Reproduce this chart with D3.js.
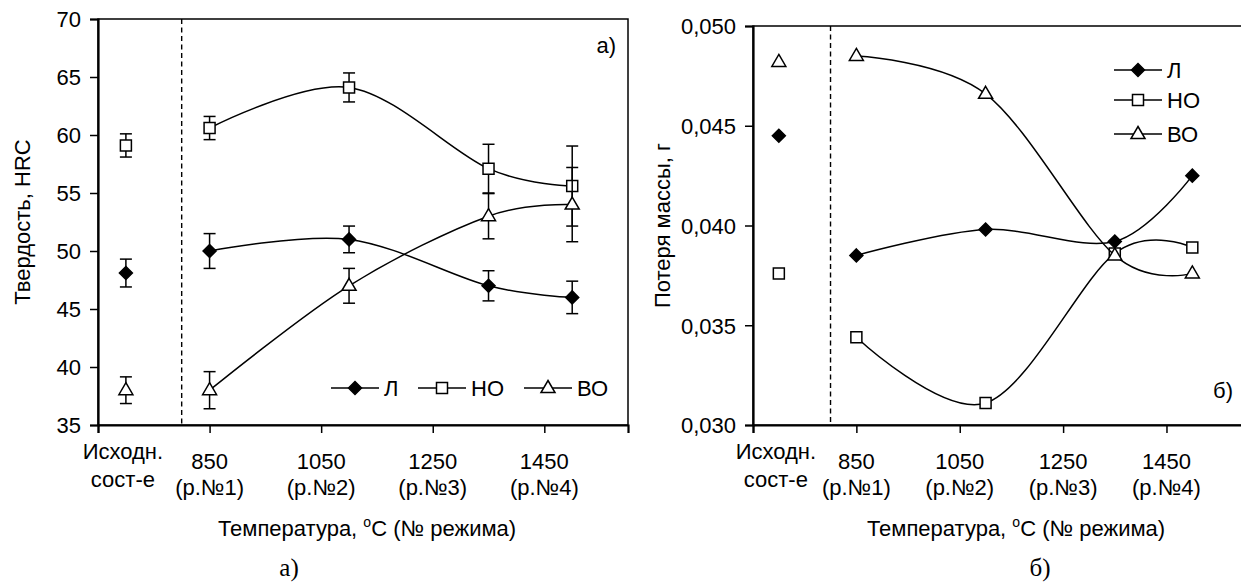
<!DOCTYPE html>
<html>
<head>
<meta charset="utf-8">
<script src="https://cdn.jsdelivr.net/npm/d3@7"></script>
<style>
  body { margin: 0; background: #fff; }
  text { font-family: "Liberation Sans", Arial, sans-serif; fill: #000; }
</style>
</head>
<body>
<script>
// temperatures, deg C (first one is the initial state, drawn apart from the lines)
var temps = [700, 850, 1100, 1350, 1500];
var seriesNames = ["Л", "НО", "ВО"];
var markers = ["diamond", "square", "triangle"];

// hardness, HRC
var hardL = [48.1, 50, 51, 47, 46];
var hardNO = [59.1, 60.6, 64.1, 57.1, 55.6];
var hardVO = [38, 38, 47, 53, 54];
var errL = [1.2, 1.5, 1.15, 1.3, 1.4];
var errNO = [1, 1, 1.25, 2.1, 3.45];
var errVO = [1.15, 1.6, 1.5, 1.95, 3.2];

// mass loss, g
var lossL = [0.0445, 0.0385, 0.0398, 0.0392, 0.0425];
var lossNO = [0.0376, 0.0344, 0.0311, 0.0386, 0.0389];
var lossVO = [0.0482, 0.0485, 0.0466, 0.0385, 0.0376];

// axis ticks and labels
var xTicks = [650, 850, 1050, 1250, 1450];
var xLabels1 = ["850", "1050", "1250", "1450"];
var xLabels2 = ["(р.№1)", "(р.№2)", "(р.№3)", "(р.№4)"];
var hardTicks = [35, 40, 45, 50, 55, 60, 65, 70];
var lossTicks = [0.030, 0.035, 0.040, 0.045, 0.050];

var fs = "22px";

var svg = d3.select("body").append("svg")
    .attr("width", 1241)
    .attr("height", 588);

svg.append("rect").attr("width", 1241).attr("height", 588).attr("fill", "#fff");

function markerPath(type) {
  if (type == "diamond") return "M0,-6.5L6.5,0L0,6.5L-6.5,0Z";
  if (type == "square") return "M-5.5,-5.5H5.5V5.5H-5.5Z";
  return "M0,-7.5L7,4.5L-7,4.5Z";
}

function drawChart(opt) {
  var x = d3.scaleLinear().domain([650, 1600]).range([opt.left, opt.right]);
  var y = d3.scaleLinear().domain(opt.yDomain).range([opt.bottom, opt.top]);
  var g = svg.append("g");

  // plot box
  g.append("rect")
      .attr("x", opt.left).attr("y", opt.top)
      .attr("width", opt.right - opt.left).attr("height", opt.bottom - opt.top)
      .attr("fill", "none").attr("stroke", "#000").attr("stroke-width", 1.5);

  // dashed separator between initial state and the regimes
  g.append("line")
      .attr("x1", x(800)).attr("x2", x(800))
      .attr("y1", opt.top).attr("y2", opt.bottom)
      .attr("stroke", "#000").attr("stroke-width", 1.4)
      .attr("stroke-dasharray", "5,3.5");

  // axes
  var yAxis = g.append("g")
      .attr("transform", "translate(" + opt.left + ",0)")
      .call(d3.axisLeft(y).tickValues(opt.yTicks).tickSize(8).tickPadding(9).tickFormat(opt.fmt));
  var xAxis = g.append("g")
      .attr("transform", "translate(0," + opt.bottom + ")")
      .call(d3.axisBottom(x).tickValues(xTicks).tickSize(8).tickFormat(""));
  [xAxis, yAxis].forEach(function(a) {
    a.select(".domain").attr("stroke", "#000").attr("stroke-width", 2.2);
    a.selectAll(".tick line").attr("stroke", "#000").attr("stroke-width", 1.5);
    a.selectAll("text").style("font-size", fs).attr("fill", "#000");
  });
  yAxis.selectAll("text").attr("dy", "0.36em");

  // two-line x labels
  xLabels1.forEach(function(l, i) {
    g.append("text").attr("x", x(xTicks[i + 1])).attr("y", opt.bottom + 44)
        .attr("text-anchor", "middle").style("font-size", fs).text(l);
    g.append("text").attr("x", x(xTicks[i + 1])).attr("y", opt.bottom + 70)
        .attr("text-anchor", "middle").style("font-size", fs).text(xLabels2[i]);
  });
  g.append("text").attr("x", x(temps[0]) - 3).attr("y", opt.bottom + 34)
      .attr("text-anchor", "middle").style("font-size", fs).text("Исходн.");
  g.append("text").attr("x", x(temps[0]) - 3).attr("y", opt.bottom + 62)
      .attr("text-anchor", "middle").style("font-size", fs).text("сост-е");

  // axis titles
  var xt = g.append("text").attr("x", opt.xTitleX).attr("y", 536)
      .attr("text-anchor", "middle").style("font-size", fs);
  xt.append("tspan").text("Температура, ");
  xt.append("tspan").attr("dy", -9).style("font-size", "14px").text("o");
  xt.append("tspan").attr("dy", 9).text("C (№ режима)");

  g.append("text")
      .attr("transform", "translate(" + opt.yTitleX + "," + ((opt.top + opt.bottom) / 2) + ") rotate(-90)")
      .attr("text-anchor", "middle").style("font-size", fs)
      .text(opt.yTitle);

  // captions
  g.append("text").attr("x", opt.capX).attr("y", 576)
      .attr("text-anchor", "middle")
      .style("font-family", "'Liberation Serif', 'Times New Roman', serif")
      .style("font-size", "25px").text(opt.caption);
  g.append("text").attr("x", opt.tagX).attr("y", opt.tagY)
      .attr("text-anchor", "end").style("font-size", fs).text(opt.caption);

  var line = d3.line()
      .x(function(d) { return x(d.t); })
      .y(function(d) { return y(d.v); })
      .curve(d3.curveCardinal.tension(0));

  opt.series.forEach(function(s, k) {
    var pts = temps.map(function(t, i) {
      return {t: t, v: s[i], e: opt.errors ? opt.errors[k][i] : 0};
    });

    g.append("path")
        .datum(pts.slice(1))
        .attr("d", line)
        .attr("fill", "none").attr("stroke", "#000").attr("stroke-width", 1.5);

    if (opt.errors) {
      pts.forEach(function(p) {
        var eg = g.append("g").attr("stroke", "#000").attr("stroke-width", 1.5);
        eg.append("line").attr("x1", x(p.t)).attr("x2", x(p.t))
            .attr("y1", y(p.v - p.e)).attr("y2", y(p.v + p.e));
        [p.v - p.e, p.v + p.e].forEach(function(c) {
          eg.append("line").attr("x1", x(p.t) - 6).attr("x2", x(p.t) + 6)
              .attr("y1", y(c)).attr("y2", y(c));
        });
      });
    }

    g.selectAll(null)
        .data(pts)
        .enter()
        .append("path")
        .attr("transform", function(d) { return "translate(" + x(d.t) + "," + y(d.v) + ")"; })
        .attr("d", markerPath(markers[k]))
        .attr("fill", markers[k] == "diamond" ? "#000" : "#fff")
        .attr("stroke", "#000").attr("stroke-width", 1.5);
  });

  // legend
  seriesNames.forEach(function(n, k) {
    var lx = opt.legend[k][0], ly = opt.legend[k][1];
    var lg = g.append("g").attr("transform", "translate(" + lx + "," + ly + ")");
    lg.append("line").attr("x1", -24).attr("x2", 24)
        .attr("stroke", "#000").attr("stroke-width", 1.5);
    lg.append("path").attr("d", markerPath(markers[k]))
        .attr("fill", markers[k] == "diamond" ? "#000" : "#fff")
        .attr("stroke", "#000").attr("stroke-width", 1.5);
    lg.append("text").attr("x", 29).attr("dy", "0.36em")
        .style("font-size", fs).text(n);
  });
}

// a) hardness
drawChart({
  left: 98, right: 628, top: 19, bottom: 425,
  yDomain: [35, 70], yTicks: hardTicks,
  fmt: d3.format("d"),
  series: [hardL, hardNO, hardVO],
  errors: [errL, errNO, errVO],
  yTitle: "Твердость, HRC", yTitleX: 30,
  xTitleX: 367, capX: 289, caption: "а)",
  tagX: 616, tagY: 53,
  legend: [[355, 388], [442, 388], [548, 388]]
});

// б) mass loss
drawChart({
  left: 753, right: 1244, top: 26, bottom: 425,
  yDomain: [0.030, 0.050], yTicks: lossTicks,
  fmt: function(d) { return d3.format(".3f")(d).replace(".", ","); },
  series: [lossL, lossNO, lossVO],
  errors: null,
  yTitle: "Потеря массы, г", yTitleX: 670,
  xTitleX: 1016, capX: 1040, caption: "б)",
  tagX: 1233, tagY: 398,
  legend: [[1138, 70], [1138, 100], [1138, 134]]
});
</script>
</body>
</html>
